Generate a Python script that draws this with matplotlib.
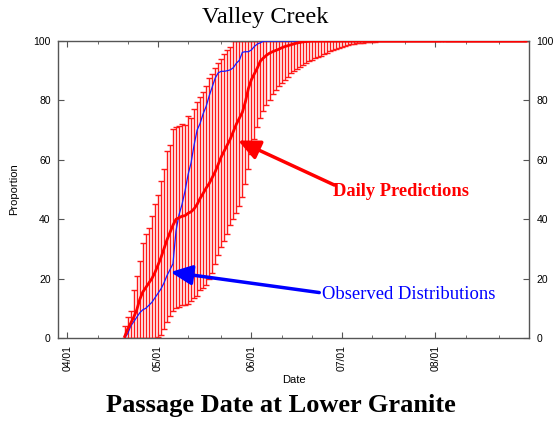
import matplotlib
matplotlib.use("Agg")
import matplotlib.pyplot as plt
from matplotlib.ticker import FixedLocator

# days are counted from 04/01 (day 0)
days = list(range(19, 153))

# daily predictions: mean with lower / upper bounds
pred_mean = [
    0.5, 3, 5, 7, 9.5, 13, 15.5, 17, 18.5, 20, 22, 24.5,
    27, 30, 33, 35.5, 38, 40, 40.5, 41, 41.2, 42, 42.5, 43.5,
    45, 47, 48.7, 50.5, 52, 54, 56, 58.5, 61, 63, 65, 67,
    69.5, 72, 74, 76, 79.5, 84, 87, 89, 91, 93.3, 94.3, 95.2,
    95.9, 96.4, 96.8, 97.2, 97.7, 98.1, 98.4, 98.7, 99, 99.3, 99.5, 99.7,
    99.8, 99.9, 100, 100, 100, 100, 100, 100, 100, 100, 100, 100,
    100, 100, 100, 100, 100, 100, 100, 100, 100, 100, 100, 100,
    100, 100, 100, 100, 100, 100, 100, 100, 100, 100, 100, 100,
    100, 100, 100, 100, 100, 100, 100, 100, 100, 100, 100, 100,
    100, 100, 100, 100, 100, 100, 100, 100, 100, 100, 100, 100,
    100, 100, 100, 100, 100, 100, 100, 100, 100, 100, 100, 100,
    100, 100,
]
pred_hi = [
    4, 7, 9, 16, 21, 26, 32, 35, 37, 41, 45, 48,
    53, 57, 63, 65, 70.5, 71, 71.5, 72, 71.7, 74.7, 74, 77,
    79.5, 81, 83, 85, 87.4, 89, 90.8, 92.5, 94, 95.5, 97, 98,
    100, 100, 100, 100, 100, 100, 100, 100, 100, 100, 100, 100,
    100, 100, 100, 100, 100, 100, 100, 100, 100, 100, 100, 100,
    100, 100, 100, 100, 100, 100, 100, 100, 100, 100, 100, 100,
    100, 100, 100, 100, 100, 100, 100, 100, 100, 100, 100, 100,
    100, 100, 100, 100, 100, 100, 100, 100, 100, 100, 100, 100,
    100, 100, 100, 100, 100, 100, 100, 100, 100, 100, 100, 100,
    100, 100, 100, 100, 100, 100, 100, 100, 100, 100, 100, 100,
    100, 100, 100, 100, 100, 100, 100, 100, 100, 100, 100, 100,
    100, 100,
]
pred_lo = [
    0, 0, 0, 0, 0, 0, 0, 0, 0, 0, 0, 0.5,
    1, 3, 5.5, 7.5, 9, 10, 10.5, 11, 11, 11.5, 12.5, 13.5,
    14, 16, 17, 18, 20, 22, 25, 28, 30.5, 32.5, 35, 38,
    40, 42, 44.5, 47.5, 52, 57, 62, 67, 71, 74, 76.5, 78.5,
    80, 82, 83.5, 84.7, 85.8, 87, 88, 89.2, 90, 90.7, 91.3, 92,
    92.6, 93.2, 93.7, 94.2, 94.6, 95.1, 95.5, 96, 96.5, 97, 97.4, 97.8,
    98.1, 98.4, 98.7, 98.9, 99.1, 99.2, 99.3, 99.4, 99.5, 99.6, 99.7, 99.8,
    99.9, 100, 100, 100, 100, 100, 100, 100, 100, 100, 100, 100,
    100, 100, 100, 100, 100, 100, 100, 100, 100, 100, 100, 100,
    100, 100, 100, 100, 100, 100, 100, 100, 100, 100, 100, 100,
    100, 100, 100, 100, 100, 100, 100, 100, 100, 100, 100, 100,
    100, 100,
]
# observed cumulative distribution
observed = [
    0, 1.5, 4, 5.5, 7, 8.5, 9.5, 10, 11, 12, 13.5, 15,
    16.5, 18.5, 21, 23, 25, 36, 41.5, 45, 49.5, 55, 59, 65,
    70, 72.3, 75.5, 78, 81.5, 84.5, 87.5, 89.3, 89.8, 89.8, 90, 90.3,
    91, 92.5, 93.5, 96.2, 96.4, 96.4, 97, 98.2, 99, 99.4, 100, 100,
    100, 100, 100, 100, 100, 100, 100, 100, 100, 100, 100, 100,
    100, 100, 100, 100, 100, 100, 100, 100, 100, 100, 100, 100,
    100, 100, 100, 100, 100, 100, 100, 100, 100, 100, 100, 100,
    100, 100, 100, 100, 100, 100, 100, 100, 100, 100, 100, 100,
    100, 100, 100, 100, 100, 100, 100, 100, 100, 100, 100, 100,
    100, 100, 100, 100, 100, 100, 100, 100, 100, 100, 100, 100,
    100, 100, 100, 100, 100, 100, 100, 100, 100, 100, 100, 100,
    100, 100,
]

month_days = [0, 30, 61, 91, 122]
month_labels = ["04/01", "05/01", "06/01", "07/01", "08/01"]
minor_days = [10, 20, 40, 51, 71, 81, 101, 112, 132, 143]

serif = "Liberation Serif"
sans = "Liberation Sans"
plt.rcParams["font.family"] = sans

fig = plt.figure(figsize=(5.57, 4.25), dpi=100)
ax = fig.add_axes([0.1047, 0.2047, 0.8450, 0.6988])

err_lo = [m - l for m, l in zip(pred_mean, pred_lo)]
err_hi = [h - m for m, h in zip(pred_mean, pred_hi)]
eb = ax.errorbar(days, pred_mean, yerr=[err_lo, err_hi], fmt="none",
                 ecolor="#ff1a1a", elinewidth=1.0, capsize=1.9, capthick=1.0, zorder=2)
for cap in eb[1]:
    cap.set_color("#ff5a5a")

ax.plot(days, observed, color="#1a1aff", lw=0.9, zorder=3)
ax.plot(days, pred_mean, color="#ff0000", lw=2.0, zorder=4)

ax.set_xlim(-3, 153)
ax.set_ylim(0, 100)
ax.xaxis.set_major_locator(FixedLocator(month_days))
ax.xaxis.set_minor_locator(FixedLocator(minor_days))
ax.set_xticklabels(month_labels, rotation=90, fontsize=7.5)
ax.set_yticks([0, 20, 40, 60, 80, 100])
ax.tick_params(axis="both", which="both", direction="in", top=True, right=True,
               color="#555555", labelsize=7.5)
ax.tick_params(axis="both", which="major", length=4)
ax.tick_params(axis="x", which="minor", length=2.5)
ax.tick_params(axis="x", which="major", pad=5)
ax.tick_params(axis="y", labelright=True, pad=5.5)
for sp in ax.spines.values():
    sp.set_color("#555555")
    sp.set_linewidth(1.0)

ax.set_xlabel("Date", fontsize=8, labelpad=3)
ax.set_ylabel("Proportion", fontsize=8, labelpad=10)

# arrows and labels
ax.annotate("", xy=(56.6, 66.5), xytext=(88.5, 51.5),
            arrowprops=dict(arrowstyle="-|>,head_length=0.65,head_width=0.3",
                            color="#ff0000", lw=2.5, mutation_scale=20,
                            shrinkA=0, shrinkB=0), zorder=5)
ax.text(110.5, 49.2, "Daily Predictions", color="#ff0000", fontsize=13.3,
        fontweight="bold", family=serif, ha="center", va="center")

ax.annotate("", xy=(34.2, 22.2), xytext=(83.5, 15.3),
            arrowprops=dict(arrowstyle="-|>,head_length=0.65,head_width=0.3",
                            color="#0000ff", lw=2.5, mutation_scale=20,
                            shrinkA=0, shrinkB=0), zorder=5)
ax.text(84.3, 14.6, "Observed Distributions", color="#0000ff", fontsize=13.4,
        family=serif, ha="left", va="center")

fig.text(0.476, 0.958, "Valley Creek", fontsize=17.5, family=serif,
         ha="center", va="center")
fig.text(0.505, 0.045, "Passage Date at Lower Granite", fontsize=19,
         fontweight="bold", family=serif, ha="center", va="center")

fig.savefig("out.png", dpi=100)
